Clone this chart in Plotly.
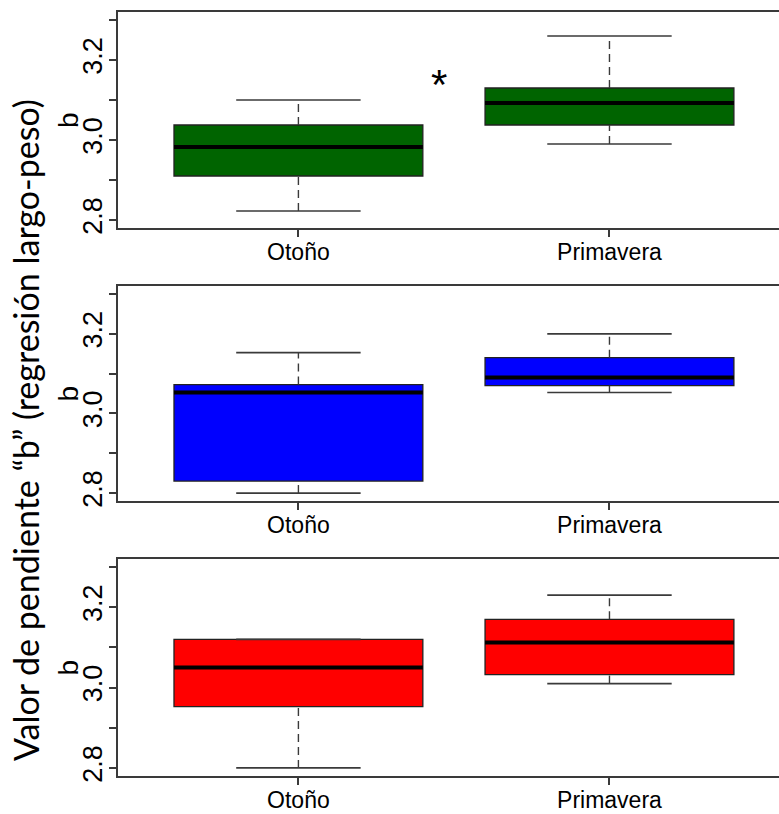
import plotly.graph_objects as go

# Seasons on the x axis
seasons = ["Otoño", "Primavera"]
xpos = [1, 2]

# Box statistics of the length-weight slope "b" for each panel
green_q1 = [2.91, 3.0375]
green_med = [2.9825, 3.0925]
green_q3 = [3.0375, 3.13]
green_lo = [2.8225, 2.99]
green_hi = [3.10, 3.26]

blue_q1 = [2.83, 3.07]
blue_med = [3.0525, 3.09]
blue_q3 = [3.0725, 3.14]
blue_lo = [2.80, 3.0525]
blue_hi = [3.1525, 3.20]

red_q1 = [2.9525, 3.0325]
red_med = [3.05, 3.1125]
red_q3 = [3.12, 3.17]
red_lo = [2.80, 3.01]
red_hi = [3.12, 3.23]

# y tick positions and labels (R-style: only every other one labelled)
ytick_vals = [2.8, 2.9, 3.0, 3.1, 3.2, 3.3]
ytick_text = ["2.8", "", "3.0", "", "3.2", ""]

# significance marker in the top panel
star_x = 1.453
star_y = 3.15

W, H = 779, 814
AX = "#3a3a3a"
SANS = "Liberation Sans, Arial, sans-serif"

panels = [
    dict(fill="#006400", q1=green_q1, med=green_med, q3=green_q3, lo=green_lo, hi=green_hi, top=12, bot=228),
    dict(fill="#0000FF", q1=blue_q1, med=blue_med, q3=blue_q3, lo=blue_lo, hi=blue_hi, top=286, bot=501),
    dict(fill="#FF0000", q1=red_q1, med=red_med, q3=red_q3, lo=red_lo, hi=red_hi, top=559, bot=776),
]

BOXW = 0.8
CAPW = 0.4

fig = go.Figure()
layout = {}

for i, p in enumerate(panels):
    n = "" if i == 0 else str(i + 1)
    xa, ya = "x" + n, "y" + n

    # whiskers (dashed)
    wx, wy = [], []
    for x, q1, q3, lo, hi in zip(xpos, p["q1"], p["q3"], p["lo"], p["hi"]):
        wx += [x, x, None, x, x, None]
        wy += [q3, hi, None, lo, q1, None]
    fig.add_trace(go.Scatter(x=wx, y=wy, mode="lines", xaxis=xa, yaxis=ya,
                             line=dict(color=AX, width=1.4, dash="8px,5px"),
                             hoverinfo="skip", showlegend=False))

    # caps
    cx, cy = [], []
    for x, lo, hi in zip(xpos, p["lo"], p["hi"]):
        cx += [x - CAPW / 2, x + CAPW / 2, None, x - CAPW / 2, x + CAPW / 2, None]
        cy += [hi, hi, None, lo, lo, None]
    fig.add_trace(go.Scatter(x=cx, y=cy, mode="lines", xaxis=xa, yaxis=ya,
                             line=dict(color=AX, width=1.7),
                             hoverinfo="skip", showlegend=False))

    # boxes from Q1 to Q3
    fig.add_trace(go.Bar(x=xpos, base=p["q1"],
                         y=[q3 - q1 for q1, q3 in zip(p["q1"], p["q3"])],
                         width=BOXW, xaxis=xa, yaxis=ya,
                         marker=dict(color=p["fill"], line=dict(color="#222222", width=1.3)),
                         hoverinfo="skip", showlegend=False))

    # medians
    mx, my = [], []
    for x, m in zip(xpos, p["med"]):
        mx += [x - BOXW / 2, x + BOXW / 2, None]
        my += [m, m, None]
    fig.add_trace(go.Scatter(x=mx, y=my, mode="lines", xaxis=xa, yaxis=ya,
                             line=dict(color="black", width=4),
                             hoverinfo="skip", showlegend=False))

    layout["xaxis" + n] = dict(
        domain=[118 / W, 1], anchor=ya, range=[0.42, 2.545],
        tickvals=xpos, ticktext=seasons, ticks="outside", ticklen=7, tickwidth=1.5,
        tickcolor=AX, showline=True, mirror=True, linecolor=AX, linewidth=2,
        showgrid=False, zeroline=False, automargin=False, ticklabelstandoff=-5,
        tickfont=dict(family=SANS, size=23, color="black"),
    )
    layout["yaxis" + n] = dict(
        domain=[1 - p["bot"] / H, 1 - p["top"] / H], anchor=xa, range=[2.78, 3.32],
        tickvals=ytick_vals, ticktext=ytick_text, tickangle=-90,
        ticks="outside", ticklen=7, tickwidth=1.5, tickcolor=AX,
        showline=True, mirror=False, linecolor=AX, linewidth=2,
        showgrid=False, zeroline=False, automargin=False, ticklabelstandoff=-4,
        tickfont=dict(family=SANS, size=27, color="black"),
    )

    # axis title "b" for each panel
    fig.add_annotation(x=68 / W, y=1 - (p["top"] + p["bot"]) / 2 / H, xref="paper", yref="paper",
                       text="b", textangle=-90, showarrow=False,
                       xanchor="center", yanchor="middle",
                       font=dict(family=SANS, size=28, color="black"))

fig.add_annotation(x=star_x, y=star_y, xref="x", yref="y", text="*", showarrow=False,
                   font=dict(family=SANS, size=42, color="black"), yshift=-4)

fig.add_annotation(x=25 / W, y=1 - 430 / H, xref="paper", yref="paper",
                   text="Valor de pendiente “b” (regresión largo-peso)",
                   textangle=-90, showarrow=False, xanchor="center", yanchor="middle",
                   font=dict(family="Lato, Open Sans, sans-serif", size=34, color="black"))

fig.update_layout(width=W, height=H, margin=dict(l=0, r=0, t=0, b=0),
                  plot_bgcolor="white", paper_bgcolor="white", **layout)

fig.write_html("out.html")
